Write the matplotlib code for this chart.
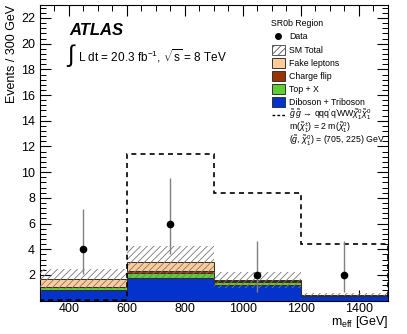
import numpy as np
import matplotlib
matplotlib.use("Agg")
import matplotlib.pyplot as plt
from matplotlib.patches import Rectangle
from matplotlib.lines import Line2D
from matplotlib.ticker import MultipleLocator

plt.rcParams['font.family'] = ['Liberation Sans', 'DejaVu Sans']
plt.rcParams['mathtext.fontset'] = 'custom'
plt.rcParams['mathtext.rm'] = 'Liberation Sans'
plt.rcParams['mathtext.it'] = 'Liberation Sans:italic'
plt.rcParams['hatch.linewidth'] = 0.6

# ---- data ----
bin_edges = [300, 600, 900, 1200, 1500]
diboson = [0.80, 1.80, 1.25, 0.35]
top_x = [0.25, 0.39, 0.18, 0.05]
charge_flip = [0.04, 0.15, 0.07, 0.02]
fake_leptons = [0.61, 0.65, 0.09, 0.03]
sm_unc = [0.78, 1.25, 0.61, 0.12]
data_vals = [4, 6, 2, 2]
data_lo = [2.09, 3.62, 0.71, 0.71]
data_hi = [7.16, 9.58, 4.64, 4.64]
signal = [0.05, 11.41, 8.41, 4.45]

edges = np.array(bin_edges, dtype=float)
lefts = edges[:-1]
widths = np.diff(edges)
centers = lefts + widths / 2

fig = plt.figure(figsize=(4.07, 3.34), dpi=100)
ax = fig.add_axes([0.098, 0.0997, 0.855, 0.885])

comps = [
    (diboson, '#0433cc', 'Diboson + Triboson'),
    (top_x, '#5ecc33', 'Top + X'),
    (charge_flip, '#993300', 'Charge flip'),
    (fake_leptons, '#ffcc99', 'Fake leptons'),
]
bottom = np.zeros(4)
for vals, col, lab in comps:
    v = np.array(vals)
    ax.bar(lefts, v, width=widths, bottom=bottom, align='edge', color=col,
           edgecolor='none', linewidth=0, zorder=2)
    bottom = bottom + v
    ax.stairs(bottom, edges, color='#3a2a1a', linewidth=0.7, zorder=3, baseline=None)

total = bottom
unc = np.array(sm_unc)
ax.bar(lefts, 2 * unc, width=widths, bottom=total - unc, align='edge',
       facecolor='none', edgecolor='#777777', hatch='/////', linewidth=0, zorder=4)

# signal
ax.stairs(signal, edges, color='black', linestyle=(0, (3, 2.5)), linewidth=1.2,
          baseline=0, zorder=5)

# data
dv = np.array(data_vals, dtype=float)
ax.errorbar(centers, dv, yerr=[dv - np.array(data_lo), np.array(data_hi) - dv],
            fmt='o', color='black', ecolor='#808080', elinewidth=1.0,
            markersize=4.5, capsize=0, zorder=6)

ax.set_xlim(300, 1500)
ax.set_ylim(0, 23)
ax.xaxis.set_major_locator(MultipleLocator(200))
ax.xaxis.set_minor_locator(MultipleLocator(50))
ax.set_yticks([2, 4, 6, 8, 10, 12, 14, 16, 18, 20, 22])
ax.yaxis.set_minor_locator(MultipleLocator(0.4))
ax.tick_params(which='both', direction='in', top=True, right=True, labelsize=9)
ax.tick_params(which='major', length=8, width=0.8)
ax.tick_params(which='minor', length=4, width=0.7)
ax.tick_params(axis='x', which='major', pad=2)
for s in ax.spines.values():
    s.set_linewidth(0.8)

ax.set_xlabel(r'm$_{\rm eff}$ [GeV]', fontsize=9, ha='right', va='center')
ax.xaxis.set_label_coords(1.0, -0.073)
ax.set_ylabel('Events / 300 GeV', fontsize=9, ha='right', va='center')
ax.yaxis.set_label_coords(-0.08, 1.0)

# ATLAS label
ax.text(0.085, 0.915, 'ATLAS', transform=ax.transAxes, fontsize=12,
        fontweight='bold', fontstyle='italic', va='center')
ax.text(0.075, 0.828, r'$\int$', transform=ax.transAxes, fontsize=17, va='center')
ax.text(0.11, 0.826, r'L dt = 20.3 fb$^{-1}$, $\sqrt{\rm s}$ = 8 TeV',
        transform=ax.transAxes, fontsize=8.5, va='center')

# legend
def ytx(py):
    return 1 - (py - 5) / 295.7
def xtx(px):
    return (px - 40) / 348.0

fs = 6.3
ax.text(xtx(271), ytx(23), 'SR0b Region', transform=ax.transAxes, fontsize=fs, va='center')
rows = [36, 50, 63, 76, 89, 102, 115, 128, 141]
tx = xtx(289)
# data
ax.add_line(Line2D([xtx(278.5)], [ytx(rows[0])], marker='o', color='black',
                   markersize=4, transform=ax.transAxes, clip_on=False))
ax.text(tx, ytx(rows[0]), 'Data', transform=ax.transAxes, fontsize=fs, va='center')
boxes = [
    ('white', '/////', '#555555', 'SM Total'),
    ('#ffcc99', None, '#333333', 'Fake leptons'),
    ('#993300', None, '#333333', 'Charge flip'),
    ('#5ecc33', None, '#333333', 'Top + X'),
    ('#0433cc', None, '#333333', 'Diboson + Triboson'),
]
bw = xtx(285) - xtx(272)
bh = 10 / 295.7
for i, (fc, h, ec, lab) in enumerate(boxes):
    yc = ytx(rows[i + 1])
    r = Rectangle((xtx(272), yc - bh / 2), bw, bh, transform=ax.transAxes,
                  facecolor=fc, edgecolor=ec, hatch=h, linewidth=0.7, clip_on=False)
    ax.add_patch(r)
    ax.text(tx, yc, lab, transform=ax.transAxes, fontsize=fs, va='center')
ax.add_line(Line2D([xtx(272), xtx(285)], [ytx(rows[6])] * 2, color='black',
                   linestyle=(0, (2, 1.5)), linewidth=1.0, transform=ax.transAxes))
ax.text(tx, ytx(rows[6]),
        r'$\tilde{g}\,\tilde{g}\,\rightarrow\,$qqq$^{\prime}$q$^{\prime}$WW$\tilde{\chi}^{0}_{1}\tilde{\chi}^{0}_{1}$',
        transform=ax.transAxes, fontsize=fs, va='center')
ax.text(tx, ytx(rows[7]), r'm($\tilde{\chi}^{\pm}_{1}$) = 2 m($\tilde{\chi}^{0}_{1}$)',
        transform=ax.transAxes, fontsize=fs, va='center')
ax.text(tx, ytx(rows[8]), r'($\tilde{g}$, $\tilde{\chi}^{0}_{1}$) = (705, 225) GeV',
        transform=ax.transAxes, fontsize=fs, va='center')

fig.savefig('out.png', dpi=100)
